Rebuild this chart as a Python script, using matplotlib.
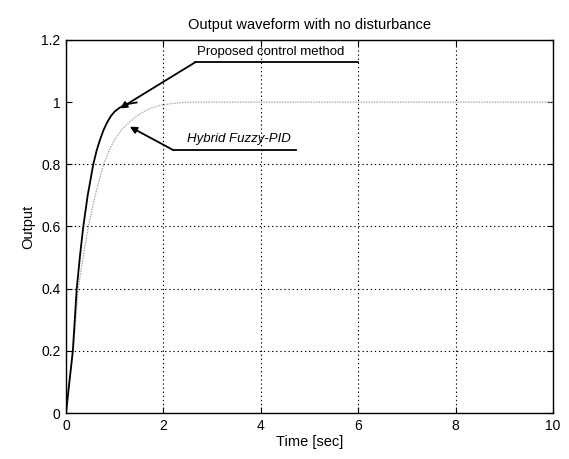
import matplotlib
matplotlib.use("Agg")
import matplotlib.pyplot as plt

# proposed control method
t_proposed = [0, 0.07, 0.14, 0.22, 0.29, 0.355, 0.445, 0.56, 0.63, 0.7, 0.77,
              0.835, 0.92, 1.0, 1.1, 1.2, 1.3, 1.45]
y_proposed = [0, 0.1, 0.2, 0.4, 0.51, 0.6, 0.7, 0.8, 0.845, 0.88, 0.91,
              0.932, 0.955, 0.97, 0.982, 0.99, 0.995, 0.999]

# hybrid fuzzy-PID
t_hybrid = [0, 0.07, 0.15, 0.25, 0.35, 0.46, 0.6, 0.77, 0.9, 1.0, 1.15, 1.31,
            1.45, 1.6, 1.75, 1.93, 2.2, 2.5, 3, 10]
y_hybrid = [0, 0.1, 0.2, 0.4, 0.5, 0.6, 0.7, 0.8, 0.85, 0.88, 0.912, 0.937,
            0.955, 0.97, 0.981, 0.99, 0.996, 1.0, 1.0, 1.0]

x_ticks = [0, 2, 4, 6, 8, 10]
y_ticks = [0, 0.2, 0.4, 0.6, 0.8, 1.0, 1.2]
y_tick_labels = ["0", "0.2", "0.4", "0.6", "0.8", "1", "1.2"]

plt.rcParams['font.family'] = ['Liberation Sans', 'DejaVu Sans']

fig = plt.figure(figsize=(5.69, 4.59), dpi=100)
ax = fig.add_axes([0.116, 0.1002, 0.856, 0.8127])

ax.plot(t_hybrid, y_hybrid, color="#a8a8a8", lw=0.9, ls=(0, (1.2, 0.9)))
ax.plot(t_proposed, y_proposed, color="black", lw=1.3)

ax.set_xlim(0, 10)
ax.set_ylim(0, 1.2)
ax.set_xticks(x_ticks)
ax.set_yticks(y_ticks)
ax.set_yticklabels(y_tick_labels)
ax.tick_params(direction="in", labelsize=10, length=4, pad=4,
               top=True, right=True)
ax.grid(True, color="black", ls=(0, (1.2, 2.5)), lw=0.8)
ax.set_axisbelow(True)
# y=1 line is covered by the settled curves
ax.get_ygridlines()[5].set_visible(False)

for sp in ax.spines.values():
    sp.set_linewidth(1.0)

ax.set_title("Output waveform with no disturbance", fontsize=10.5, pad=8)
ax.set_xlabel("Time [sec]", fontsize=10.5, labelpad=2)
ax.set_ylabel("Output", fontsize=10.5, labelpad=4)

# annotation: proposed control method
ax.plot([6.0, 2.65], [1.128, 1.128], color="black", lw=1.3)
ax.annotate("", xy=(1.11, 0.98), xytext=(2.65, 1.128),
            arrowprops=dict(arrowstyle="-|>", color="black", lw=1.3,
                            mutation_scale=10, shrinkA=0, shrinkB=0))
ax.text(4.2, 1.162, "Proposed control method", fontsize=9.5,
        ha="center", va="center")

# annotation: hybrid fuzzy-PID
ax.plot([4.72, 2.2], [0.846, 0.846], color="black", lw=1.3)
ax.annotate("", xy=(1.31, 0.921), xytext=(2.2, 0.846),
            arrowprops=dict(arrowstyle="-|>", color="black", lw=1.3,
                            mutation_scale=10, shrinkA=0, shrinkB=0))
ax.text(3.55, 0.88, "Hybrid Fuzzy-PID", fontsize=9.5, style="italic",
        ha="center", va="center")

fig.savefig("out.png", dpi=100)
